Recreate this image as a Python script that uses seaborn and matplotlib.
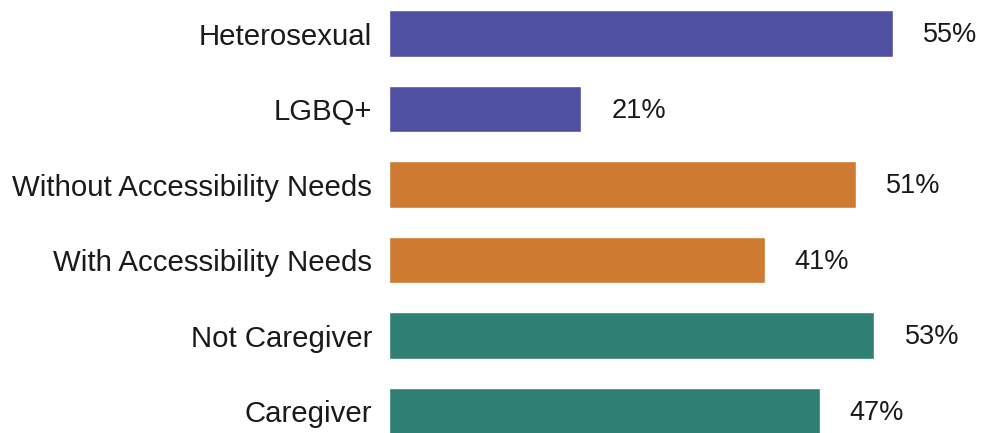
import matplotlib
matplotlib.use("Agg")
import matplotlib.pyplot as plt
import seaborn as sns
import pandas as pd

categories = [
    "Heterosexual",
    "LGBQ+",
    "Without Accessibility Needs",
    "With Accessibility Needs",
    "Not Caregiver",
    "Caregiver",
]
values = [55, 21, 51, 41, 53, 47]
groups = ["orientation", "orientation", "access", "access", "care", "care"]
group_colors = {"orientation": "#5050A2", "access": "#CE7A31", "care": "#2F8072"}

df = pd.DataFrame({"category": categories, "value": values, "group": groups})

sns.set_theme(style="white")
plt.rcParams["font.family"] = ["Liberation Sans", "DejaVu Sans"]

W, H, DPI = 982, 433, 100
fig = plt.figure(figsize=(W / DPI, H / DPI), dpi=DPI)
ax = fig.add_axes([389 / W, 0, 1 - 389 / W, 1])

sns.barplot(
    data=df, x="value", y="category", hue="group", palette=group_colors,
    order=categories, dodge=False, legend=False, width=0.62,
    saturation=1, ax=ax,
)

px_per_pct = 9.16
ax.set_xlim(0, (W - 389) / px_per_pct)
ax.set_ylim(5.29, -0.444)

for i, v in enumerate(values):
    ax.text(v + 30 / px_per_pct, i + 0.02, f"{v}%", va="center", ha="left",
            fontsize=19.5, color="#1a1a1a")

ax.set_xlabel("")
ax.set_ylabel("")
ax.set_xticks([])
ax.tick_params(axis="y", length=0, pad=12, labelsize=21.2, labelcolor="#1a1a1a")
sns.despine(ax=ax, left=True, bottom=True)

fig.savefig("out.png", dpi=DPI)
